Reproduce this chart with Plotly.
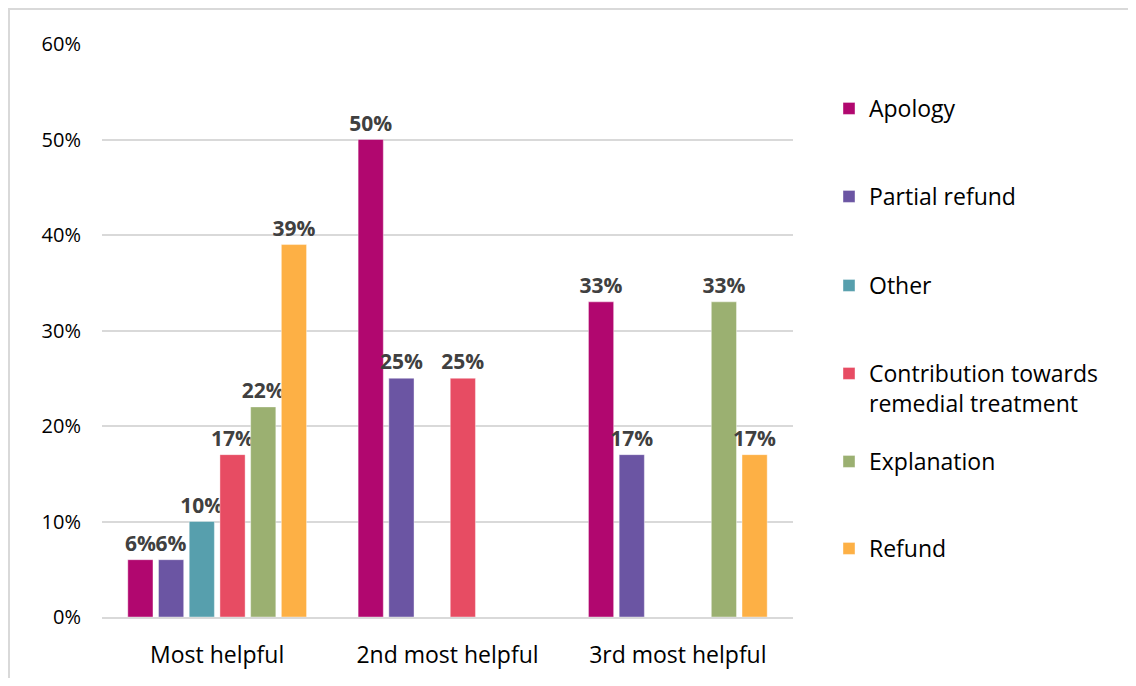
import plotly.graph_objects as go

categories = ["Most helpful", "2nd most helpful", "3rd most helpful"]
series_names = ["Apology", "Partial refund", "Other",
                "Contribution towards<br>remedial treatment", "Explanation", "Refund"]
apology = [6, 50, 33]
partial_refund = [6, 25, 17]
other = [10, None, None]
contribution = [17, 25, None]
explanation = [22, None, 33]
refund = [39, None, 17]
series_values = [apology, partial_refund, other, contribution, explanation, refund]
colors = ["#B1076F", "#6B55A3", "#579FAD", "#E74C63", "#9BB071", "#FDB045"]

# the page adds an 8px body margin, so the figure is 16px smaller than the window
OFF = 8
W, H = 1120, 670
L, R, T, B = 102 - OFF, 343 - OFF, 44 - OFF, 69 - OFF
pw, ph = W - L - R, H - T - B

def py_paper(py):
    # screen pixel y -> paper coordinate
    return (H - B - (py - OFF)) / ph

def px_paper(px):
    return (px - OFF - L) / pw

FONT = "Open Sans, Lato, sans-serif"

fig = go.Figure()
legend_tops = [87, 175, 264, 352, 440, 527]
layout_legends = {}
for i, (name, vals, col) in enumerate(zip(series_names, series_values, colors)):
    key = "legend" if i == 0 else f"legend{i+1}"
    fig.add_trace(go.Bar(
        x=categories, y=vals, name=name, marker_color=col,
        marker_line=dict(color="rgba(255,255,255,0.4)", width=1),
        text=[f"{v}%" if v is not None else "" for v in vals],
        textposition="outside", cliponaxis=False, constraintext="none",
        textfont=dict(family=FONT, size=21, color="#404040", weight="bold"),
        legend=key, showlegend=True,
    ))
    layout_legends[key] = dict(
        x=px_paper(829), xanchor="left",
        y=py_paper(legend_tops[i]), yanchor="top",
        valign="top", bgcolor="rgba(0,0,0,0)",
        font=dict(family=FONT, size=23, color="#000000"),
        itemwidth=30, tracegroupgap=0, visible=True,
    )

# chart border: only top and left edges show in the picture
fig.add_shape(type="line", xref="paper", yref="paper",
              x0=px_paper(8), x1=px_paper(1200), y0=py_paper(9), y1=py_paper(9),
              line=dict(color="#D9D9D9", width=2))
fig.add_shape(type="line", xref="paper", yref="paper",
              x0=px_paper(9), x1=px_paper(9), y0=py_paper(8), y1=py_paper(760),
              line=dict(color="#D9D9D9", width=2))

fig.update_layout(
    width=W, height=H,
    margin=dict(l=L, r=R, t=T, b=B),
    paper_bgcolor="white", plot_bgcolor="white",
    barmode="group", bargap=0.2, bargroupgap=0.18,
    showlegend=True,
    font=dict(family=FONT, size=20, color="#000000"),
    **layout_legends,
)
fig.update_yaxes(range=[0, 60], dtick=10, ticksuffix="%", showgrid=True,
                 gridcolor="#D9D9D9", gridwidth=2, zeroline=False, showline=False,
                 ticks="", tickfont=dict(size=20, color="#000000"), ticklabelstandoff=20,
                 automargin=False)
fig.update_xaxes(showline=True, linecolor="#D9D9D9", linewidth=2, ticks="",
                 tickfont=dict(size=23, color="#000000"), ticklabelstandoff=16,
                 automargin=False)

fig.write_html("out.html")
